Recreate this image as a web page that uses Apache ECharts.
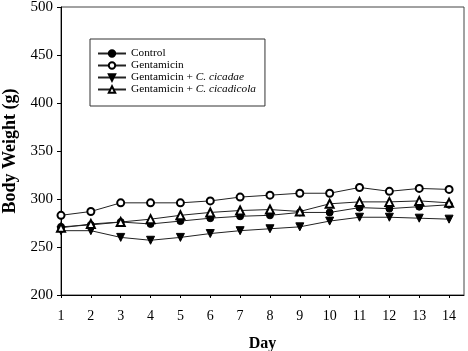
<!DOCTYPE html>
<html>
<head>
<meta charset="utf-8">
<script src="https://cdn.jsdelivr.net/npm/echarts@6/dist/echarts.min.js"></script>
<style>
  html, body { margin: 0; padding: 0; background: #fff; }
  #chart { width: 468px; height: 351px; }
</style>
</head>
<body>
<div id="chart"></div>
<script>
const days = [1, 2, 3, 4, 5, 6, 7, 8, 9, 10, 11, 12, 13, 14];
const seriesNames = ['Control', 'Gentamicin', 'Gentamicin + C. cicadae', 'Gentamicin + C. cicadicola'];
const control = [271, 273, 276, 274, 277, 280, 282, 283, 286, 286, 291, 290, 292, 294];
const gentamicin = [283, 287, 296, 296, 296, 298, 302, 304, 306, 306, 312, 308, 311, 310];
const cicadae = [267, 267, 260, 257, 260, 264, 267, 269, 271, 277, 281, 281, 280, 279];
const cicadicola = [270, 274, 276, 279, 283, 286, 288, 289, 287, 295, 297, 297, 298, 296];
const yTicks = [200, 250, 300, 350, 400, 450, 500];

const serif = 'Liberation Serif';
const chart = echarts.init(document.getElementById('chart'));

const pairs = list => days.map((d, i) => [d, list[i]]);
const makeSeries = (name, values, symbol, rotate) => ({
  name,
  type: 'line',
  data: pairs(values),
  symbol,
  symbolRotate: rotate || 0,
  symbolSize: symbol.toLowerCase().indexOf('triangle') >= 0 ? 8 : 7,
  showSymbol: true,
  lineStyle: { color: '#222', width: 1 },
  itemStyle: { color: '#000', borderColor: '#000', borderWidth: 1 },
  emphasis: { disabled: true },
  z: 3
});

const option = {
  animation: false,
  grid: {
    left: 61, right: 4, top: 7, bottom: 56,
    outerBoundsMode: 'none',
    show: true, borderColor: '#444', borderWidth: 1
  },
  legend: {
    orient: 'vertical',
    left: 90,
    top: 39,
    padding: [9, 9, 11, 7],
    itemGap: 1,
    itemWidth: 28,
    itemHeight: 8,
    borderColor: '#333',
    borderWidth: 1,
    data: seriesNames,
    formatter: name => {
      const k = name.indexOf('C. ');
      return k < 0 ? '{n|' + name + '}' : '{n|' + name.slice(0, k) + '}{i|' + name.slice(k) + '}';
    },
    textStyle: {
      fontFamily: serif, fontSize: 11.3, color: '#000',
      rich: {
        n: { fontFamily: serif, fontSize: 11.3, color: '#000' },
        i: { fontFamily: serif, fontSize: 11.3, color: '#000', fontStyle: 'italic' }
      }
    }
  },
  xAxis: {
    type: 'value',
    min: 1,
    max: 14.5,
    interval: 1,
    name: 'Day',
    nameLocation: 'middle',
    nameGap: 41,
    nameTextStyle: { fontFamily: serif, fontSize: 16, fontWeight: 'bold', color: '#000' },
    axisLine: { lineStyle: { color: '#000', width: 1 } },
    axisTick: { inside: false, length: 3, lineStyle: { color: '#000' } },
    axisLabel: { showMaxLabel: false, margin: 14, fontFamily: serif, fontSize: 14, color: '#000' },
    splitLine: { show: false }
  },
  yAxis: {
    type: 'value',
    min: yTicks[0],
    max: yTicks[yTicks.length - 1],
    interval: 50,
    name: 'Body Weight (g)',
    nameLocation: 'middle',
    nameGap: 40,
    nameTextStyle: { fontFamily: serif, fontSize: 18, fontWeight: 'bold', color: '#000' },
    axisLine: { show: true, lineStyle: { color: '#000', width: 1 } },
    axisTick: { show: true, length: 4, lineStyle: { color: '#000' } },
    axisLabel: { margin: 8, fontFamily: serif, fontSize: 15, color: '#000' },
    splitLine: { show: false }
  },
  series: [
    makeSeries(seriesNames[0], control, 'circle'),
    makeSeries(seriesNames[1], gentamicin, 'emptyCircle'),
    makeSeries(seriesNames[2], cicadae, 'triangle', 180),
    makeSeries(seriesNames[3], cicadicola, 'emptyTriangle')
  ]
};
chart.setOption(option);
</script>
</body>
</html>
